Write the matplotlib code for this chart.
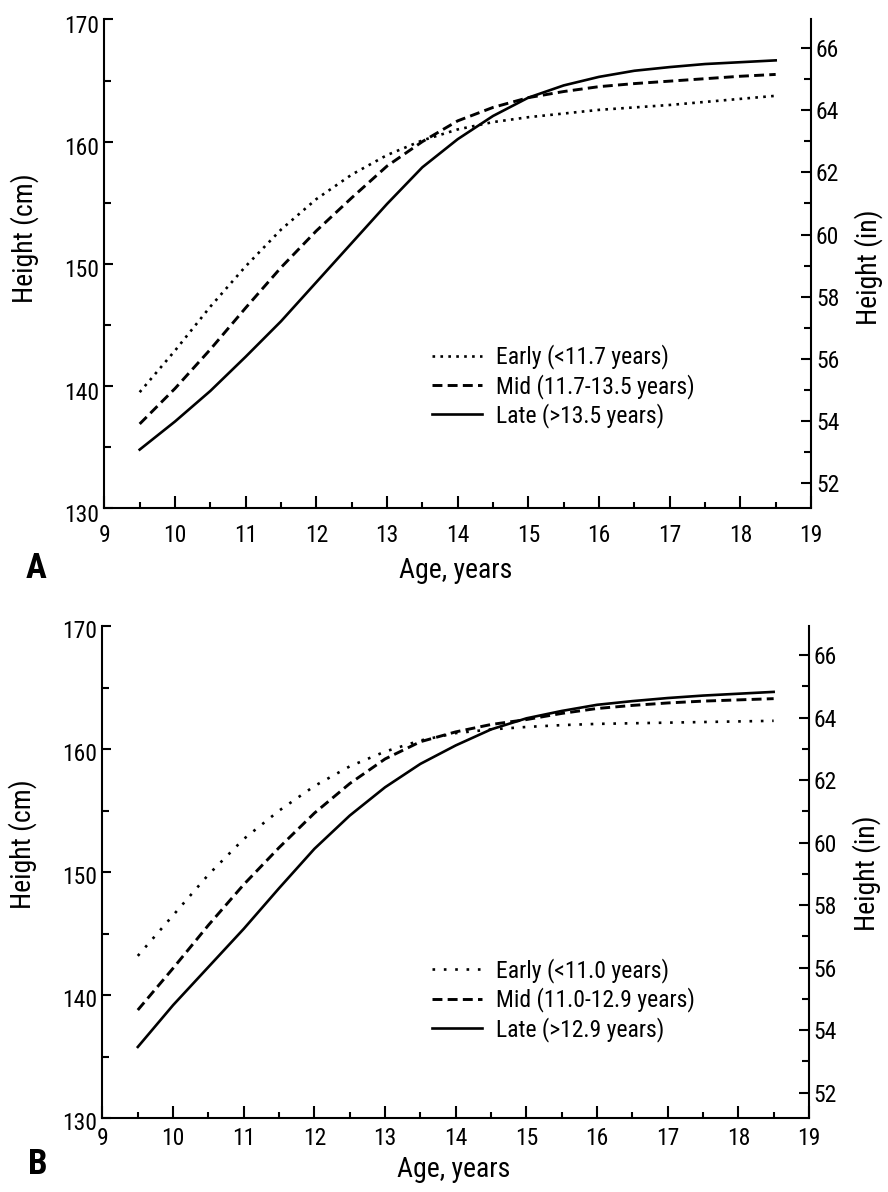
import matplotlib
matplotlib.use("Agg")
import matplotlib.pyplot as plt
import matplotlib.transforms as mtransforms
from matplotlib.ticker import MultipleLocator

plt.rcParams["font.family"] = ["Roboto Condensed", "Liberation Sans", "DejaVu Sans"]

# ages at which the curves were read (half-year steps)
ages = [9.5, 10, 10.5, 11, 11.5, 12, 12.5, 13, 13.5, 14,
        14.5, 15, 15.5, 16, 16.5, 17, 17.5, 18, 18.5]

# panel A, height in cm
a_early = [139.5, 142.9, 146.5, 149.8, 152.8, 155.3, 157.3, 158.9, 160.1, 161.0,
           161.6, 162.0, 162.3, 162.6, 162.8, 163.0, 163.25, 163.5, 163.75]
a_mid = [136.9, 139.8, 143.0, 146.4, 149.7, 152.7, 155.4, 158.0, 160.0, 161.7,
         162.8, 163.6, 164.1, 164.5, 164.75, 164.95, 165.15, 165.35, 165.5]
a_late = [134.8, 137.1, 139.6, 142.4, 145.3, 148.5, 151.7, 154.9, 157.9, 160.2,
          162.1, 163.6, 164.6, 165.3, 165.8, 166.1, 166.35, 166.5, 166.65]
a_labels = ["Early (<11.7 years)", "Mid (11.7-13.5 years)", "Late (>13.5 years)"]

# panel B, height in cm
b_early = [143.2, 146.5, 149.8, 152.7, 155.0, 157.0, 158.6, 159.8, 160.7, 161.3,
           161.6, 161.8, 161.95, 162.05, 162.1, 162.15, 162.2, 162.25, 162.3]
b_mid = [138.8, 142.2, 145.7, 149.0, 152.0, 154.8, 157.2, 159.2, 160.6, 161.4,
         162.0, 162.4, 162.9, 163.3, 163.55, 163.75, 163.9, 164.0, 164.1]
b_late = [135.8, 139.2, 142.3, 145.4, 148.7, 151.9, 154.6, 156.9, 158.8, 160.3,
          161.6, 162.5, 163.1, 163.6, 163.9, 164.15, 164.35, 164.5, 164.65]
b_labels = ["Early (<11.0 years)", "Mid (11.0-12.9 years)", "Late (>12.9 years)"]

CM_PER_IN = 2.54


def draw_panel(fig, rect, early, mid, late, labels, dot_style, xpad, ylab_shift,
               cm_label_y, in_label_y, xlabel_y, leg_anchor):
    ax = fig.add_axes(rect)
    ax.plot(ages, early, color="black", lw=1.9, linestyle=dot_style, label=labels[0])
    ax.plot(ages, mid, color="black", lw=2.1, linestyle=(0, (3.4, 1.8)), label=labels[1])
    ax.plot(ages, late, color="black", lw=1.9, linestyle="-", label=labels[2])

    ax.set_xlim(9, 19)
    ax.set_ylim(130, 170)
    ax.xaxis.set_major_locator(MultipleLocator(1))
    ax.xaxis.set_minor_locator(MultipleLocator(0.5))
    ax.yaxis.set_major_locator(MultipleLocator(10))
    ax.yaxis.set_minor_locator(MultipleLocator(5))
    ax.spines["top"].set_visible(False)
    ax.spines["right"].set_visible(False)
    for s in ("left", "bottom"):
        ax.spines[s].set_linewidth(1.5)

    ax.tick_params(axis="x", which="major", direction="in", length=8.5, width=1.5,
                   labelsize=17, pad=xpad)
    ax.tick_params(axis="x", which="minor", direction="in", length=4.5, width=1.5)
    ax.tick_params(axis="y", which="major", direction="in", length=6.5, width=1.5,
                   labelsize=17, pad=3.5)
    ax.tick_params(axis="y", which="minor", direction="in", length=5, width=1.5)
    # the scanned left labels sit a little below their ticks
    shift = mtransforms.ScaledTranslation(0, -ylab_shift, fig.dpi_scale_trans)
    for lab in ax.get_yticklabels():
        lab.set_transform(lab.get_transform() + shift)

    ax2 = ax.twinx()
    ax2.set_ylim(130 / CM_PER_IN, 170 / CM_PER_IN)
    ax2.yaxis.set_major_locator(MultipleLocator(2))
    ax2.yaxis.set_minor_locator(MultipleLocator(1))
    ax2.spines["top"].set_visible(False)
    ax2.spines["left"].set_visible(False)
    ax2.spines["bottom"].set_visible(False)
    ax2.spines["right"].set_linewidth(1.5)
    ax2.tick_params(axis="y", which="major", direction="in", length=7, width=1.5,
                    labelsize=17, pad=3.5)
    ax2.tick_params(axis="y", which="minor", direction="in", length=5, width=1.5)

    ax.set_ylabel("Height (cm)", fontsize=20, va="center")
    ax.yaxis.set_label_coords(-0.113, cm_label_y)
    ax2.set_ylabel("Height (in)", fontsize=20, va="center")
    ax2.yaxis.set_label_coords(1.082, in_label_y)
    ax.set_xlabel("Age, years", fontsize=20, va="center")
    ax.xaxis.set_label_coords(0.497, xlabel_y)

    ax.legend(loc="upper left", bbox_to_anchor=leg_anchor, frameon=False,
              fontsize=17, handlelength=2.1, handletextpad=0.6,
              labelspacing=0.18, borderpad=0, borderaxespad=0)
    return ax


fig = plt.figure(figsize=(8.88, 11.92), dpi=100)

draw_panel(fig, [0.1175, 0.5736, 0.7958, 0.4101], a_early, a_mid, a_late, a_labels,
           (0, (1, 2)), 11, 0.045, 0.553, 0.494, -0.128, (0.4637, 0.335))
draw_panel(fig, [0.1154, 0.0618, 0.7956, 0.4130], b_early, b_mid, b_late, b_labels,
           (0, (1, 3.3)), 6.5, 0.025, 0.556, 0.498, -0.103, (0.4664, 0.325))

fig.text(0.0405, 0.5227, "A", fontsize=25, fontweight="bold", ha="center", va="center")
fig.text(0.043, 0.0227, "B", fontsize=25, fontweight="bold", ha="center", va="center")

fig.savefig("out.png", dpi=100, facecolor="white")
